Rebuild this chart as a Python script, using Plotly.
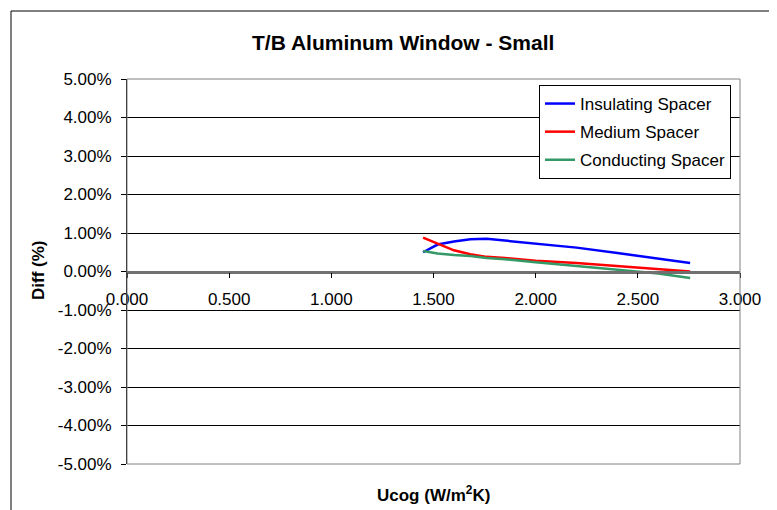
import plotly.graph_objects as go

ucog = [1.449, 1.52, 1.60, 1.68, 1.76, 1.85, 2.00, 2.20, 2.40, 2.60, 2.756]
insulating = [0.0050, 0.0070, 0.0078, 0.0084, 0.0085, 0.0080, 0.0072, 0.0062, 0.0048, 0.0033, 0.0022]
medium = [0.0088, 0.0072, 0.0055, 0.0045, 0.0038, 0.0035, 0.0028, 0.0022, 0.0014, 0.0006, 0.0000]
conducting = [0.0053, 0.0047, 0.0043, 0.0040, 0.0035, 0.0032, 0.0024, 0.0014, 0.0005, -0.0005, -0.0017]

x_ticks = [0.0, 0.5, 1.0, 1.5, 2.0, 2.5, 3.0]
x_labels = ["0.000", "0.500", "1.000", "1.500", "2.000", "2.500", "3.000"]
y_ticks = [0.05, 0.04, 0.03, 0.02, 0.01, 0.0, -0.01, -0.02, -0.03, -0.04, -0.05]
y_labels = ["5.00%", "4.00%", "3.00%", "2.00%", "1.00%", "0.00%",
            "-1.00%", "-2.00%", "-3.00%", "-4.00%", "-5.00%"]

series = [
    ("Insulating Spacer", insulating, "#0000FF"),
    ("Medium Spacer", medium, "#FF0000"),
    ("Conducting Spacer", conducting, "#339966"),
]

# page body has an 8px margin; work in screenshot pixels and shift
OFF = 8
W, H = 777 - OFF, 510 - OFF
L, R, T, B = 127 - OFF, 777 - 740, 79 - OFF, 510 - 464
pw, ph = W - L - R, H - T - B

def px(xs):
    return (xs - OFF - L) / pw

def py(ys):
    return (H - B - (ys - OFF)) / ph

fig = go.Figure()
for i, (name, vals, col) in enumerate(series):
    fig.add_trace(go.Scatter(x=ucog, y=vals, mode="lines", name=name,
                             line=dict(color=col, width=2.5),
                             legendgroup=str(i)))

font = "Liberation Sans, Arial, sans-serif"
fig.update_layout(
    width=W, height=H,
    margin=dict(l=L, r=R, t=T, b=B, autoexpand=False),
    paper_bgcolor="white", plot_bgcolor="white",
    font=dict(family=font, size=17, color="black"),
    showlegend=True,
    legend=dict(x=px(539), y=py(85), xanchor="left", yanchor="top",
                bordercolor="black", borderwidth=1, bgcolor="white",
                font=dict(size=17), traceorder="grouped", tracegroupgap=3,
                itemwidth=30),
    xaxis=dict(range=[0, 3], tickvals=x_ticks, ticktext=x_labels,
               showgrid=False, zeroline=False,
               showline=True, linecolor="#707070", linewidth=2.5,
               anchor="free", position=0.5,
               ticks="outside", ticklen=5, tickcolor="black", tickwidth=1,
               ticklabelstandoff=6),
    yaxis=dict(range=[-0.05, 0.05], tickvals=y_ticks, ticktext=y_labels,
               showgrid=True, gridcolor="black", gridwidth=1,
               zeroline=False, showline=True, linecolor="black", linewidth=1,
               ticks="outside", ticklen=5, tickcolor="black",
               ticklabelstandoff=6),
    shapes=[
        dict(type="rect", xref="paper", yref="paper", x0=0, x1=1, y0=0, y1=1,
             line=dict(color="#808080", width=1), layer="above"),
        dict(type="rect", xref="paper", yref="paper", x0=px(11), x1=px(800),
             y0=py(530), y1=py(11), line=dict(color="black", width=1)),
    ],
    annotations=[
        dict(text="<b>T/B Aluminum Window - Small</b>", xref="paper", yref="paper",
             x=px(403), y=py(42), showarrow=False, font=dict(size=21),
             xanchor="center", yanchor="middle"),
        dict(text="<b>Ucog (W/m<sup>2</sup>K)</b>", xref="paper", yref="paper",
             x=px(434), y=py(494), showarrow=False, font=dict(size=17),
             xanchor="center", yanchor="middle"),
        dict(text="<b>Diff (%)</b>", xref="paper", yref="paper",
             x=px(38), y=py(271), showarrow=False, font=dict(size=17),
             textangle=-90, xanchor="center", yanchor="middle"),
    ],
)

fig.write_html("out.html")
